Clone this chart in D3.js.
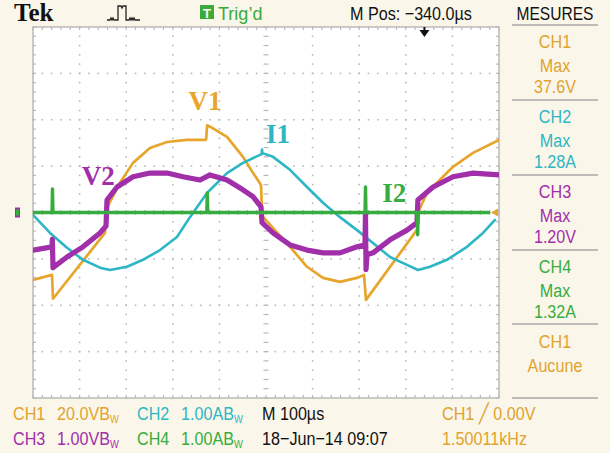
<!DOCTYPE html>
<html>
<head>
<meta charset="utf-8">
<script src="https://cdn.jsdelivr.net/npm/d3@7"></script>
<style>
  html, body { margin: 0; padding: 0; background: #fbf6ea; }
  svg { display: block; }
  .tek { font-family: "Liberation Sans", Arial, sans-serif; }
  .lbl { font-family: "Liberation Serif", "Times New Roman", serif; font-weight: bold; }
</style>
</head>
<body>
<svg id="scope" width="610" height="453"></svg>
<script>
// Screen time in microseconds, 0 = left edge of the graticule (100 us/div, 10 div)
// CH1 — V1, volts
const ch1Time = [0, 40.8, 42.9, 154.5, 156.0, 165.0, 186.7, 214.6, 251.0, 287.6, 330.5, 369.0, 371.5, 373.8, 380.0, 416.3, 450.6, 472.0, 489.3, 491.4, 493.6, 551.5, 588.0, 622.3, 658.8, 695.3, 710.3, 714.6, 824.0, 826.0, 845.5, 873.4, 901.3, 944.2, 1000];
const ch1Volts = [-29.1, -26.9, -37.2, -8.8, 0.5, 4.5, 12.8, 21.4, 27.8, 30.4, 31.3, 31.3, 31.5, 37.6, 37.0, 32.6, 24.0, 17.1, 11.9, 0.0, -1.9, -14.8, -23.4, -28.2, -29.9, -28.2, -26.9, -37.7, -7.5, 0.0, 8.4, 14.1, 19.7, 25.7, 31.3];

// CH2 — I1, amperes
const ch2Time = [0, 36.5, 73.0, 107.3, 143.8, 165.2, 201.7, 236.0, 272.5, 309.0, 336.9, 373.4, 416.3, 450.6, 490.5, 491.4, 492.3, 515.0, 551.5, 588.0, 622.3, 658.8, 695.3, 729.6, 766.1, 802.6, 826.2, 851.9, 888.4, 931.3, 965.7, 991.4];
const ch2Amps = [-0.05, -0.44, -0.76, -1.02, -1.19, -1.24, -1.17, -1.02, -0.81, -0.53, -0.10, 0.42, 0.85, 1.07, 1.26, 1.36, 1.28, 1.20, 0.92, 0.55, 0.21, -0.10, -0.38, -0.66, -0.96, -1.13, -1.24, -1.17, -1.02, -0.74, -0.44, -0.16];

// CH3 — V2, volts
const ch3Time = [0, 40.8, 41.5, 42.9, 73.0, 107.3, 143.8, 156.7, 158.8, 180.3, 214.6, 251.0, 287.6, 321.9, 358.4, 379.8, 416.3, 450.6, 472.0, 489.3, 491.4, 515.0, 551.5, 588.0, 622.3, 658.8, 695.3, 712.4, 713.5, 714.6, 716.7, 729.6, 766.1, 802.6, 824.0, 826.0, 858.4, 901.3, 944.2, 1000];
const ch3Volts = [-0.81, -0.74, -0.58, -1.19, -0.96, -0.74, -0.44, -0.29, 0.27, 0.55, 0.77, 0.85, 0.85, 0.77, 0.70, 0.81, 0.70, 0.49, 0.34, 0.12, -0.22, -0.44, -0.70, -0.81, -0.87, -0.87, -0.74, -0.70, 0.0, -1.23, -0.91, -0.87, -0.59, -0.38, -0.22, 0.27, 0.55, 0.77, 0.85, 0.81];

// CH4 — I2, amperes
const ch4Time = [0, 40.8, 41.8, 42.8, 373.0, 374.0, 375.0, 712.5, 713.5, 714.5, 824.5, 825.5, 826.5, 978];
const ch4Amps = [0, 0, 0.51, 0, 0, 0.42, 0, 0, 0.55, 0, 0, -0.48, 0, 0];

// Channel settings (units per division) and colours
const perDiv = [20, 1, 1, 1];
const traceColors = ["#e8a52c", "#2db6c4", "#a12fa9", "#37ad3f"];
const traceLabels = ["V1", "I1", "V2", "I2"];
// label anchor in screen time (us) and channel units
const labelT = [369, 526, 140, 775];
const labelV = [44, 1.5, 0.6, 0.23];

// Measurement panel
const measureTitle = "MESURES";
const measureRows = [
  ["CH1", "Max", "37.6V"],
  ["CH2", "Max", "1.28A"],
  ["CH3", "Max", "1.20V"],
  ["CH4", "Max", "1.32A"],
  ["CH1", "Aucune"]
];
const measureColors = ["#e0a32e", "#2db6c4", "#a12fa9", "#37ad3f", "#e0a32e"];

// Footer readouts
const footNames = ["CH1", "CH2", "CH3", "CH4"];
const footScales = ["20.0V", "1.00A", "1.00V", "1.00A"];
const timebase = "M 100µs";
const dateText = "18−Jun−14 09:07";
const trigText = "CH1 ╱ 0.00V";
const freqText = "1.50011kHz";

const svg = d3.select("#scope");
const W = 610, H = 453;
const gx0 = 33, gx1 = 499, gy0 = 27, gy1 = 398;

const x = d3.scaleLinear().domain([0, 1000]).range([gx0, gx1]);
const yDiv = d3.scaleLinear().domain([-4, 4]).range([gy1, gy0]);
const xDiv = d3.scaleLinear().domain([-5, 5]).range([gx0, gx1]);

// Condensed readout text, as on the instrument display
function tek(px, py, str, color, anchor, size, sx) {
  return svg.append("text").attr("class", "tek")
    .attr("transform", `translate(${px},${py}) scale(${sx || 0.85},1)`)
    .attr("text-anchor", anchor || "start").attr("font-size", size || 19)
    .attr("fill", color).text(str);
}

svg.append("rect").attr("width", W).attr("height", H).attr("fill", "#fbf6ea");

// Graticule
const grat = svg.append("g");
grat.append("rect").attr("x", gx0).attr("y", gy0).attr("width", gx1 - gx0).attr("height", gy1 - gy0)
  .attr("fill", "#ffffff").attr("stroke", "#a9a9a9").attr("stroke-width", 1.2);

const gridCol = "#b9b9b9";
const minorX = d3.range(-5, 5.001, 0.2);
const minorY = d3.range(-4, 4.001, 0.2);
d3.range(-4, 5).forEach(k => {
  if (k === 0) return;
  grat.selectAll(null).data(minorY).enter().append("rect")
    .attr("x", xDiv(k) - 0.8).attr("y", d => yDiv(d) - 0.8).attr("width", 1.6).attr("height", 1.6).attr("fill", gridCol);
});
d3.range(-3, 4).forEach(k => {
  if (k === 0) return;
  grat.selectAll(null).data(minorX).enter().append("rect")
    .attr("x", d => xDiv(d) - 0.8).attr("y", yDiv(k) - 0.8).attr("width", 1.6).attr("height", 1.6).attr("fill", gridCol);
});
grat.selectAll(null).data(minorY).enter().append("line")
  .attr("x1", xDiv(0) - 2.5).attr("x2", xDiv(0) + 2.5).attr("y1", d => yDiv(d)).attr("y2", d => yDiv(d))
  .attr("stroke", gridCol).attr("stroke-width", 1.2);
grat.selectAll(null).data(minorX).enter().append("line")
  .attr("y1", yDiv(0) - 2.5).attr("y2", yDiv(0) + 2.5).attr("x1", d => xDiv(d)).attr("x2", d => xDiv(d))
  .attr("stroke", gridCol).attr("stroke-width", 1.2);
[[gy0, 1], [gy1, -1]].forEach(([yy, s]) => {
  grat.selectAll(null).data(minorX).enter().append("line")
    .attr("x1", d => xDiv(d)).attr("x2", d => xDiv(d)).attr("y1", yy).attr("y2", yy + s * 3)
    .attr("stroke", gridCol).attr("stroke-width", 1.2);
});
[[gx0, 1], [gx1, -1]].forEach(([xx, s]) => {
  grat.selectAll(null).data(minorY).enter().append("line")
    .attr("y1", d => yDiv(d)).attr("y2", d => yDiv(d)).attr("x1", xx).attr("x2", xx + s * 3)
    .attr("stroke", gridCol).attr("stroke-width", 1.2);
});

// Traces
svg.append("clipPath").attr("id", "screen").append("rect")
  .attr("x", gx0).attr("y", gy0).attr("width", gx1 - gx0).attr("height", gy1 - gy0);
const traces = svg.append("g").attr("clip-path", "url(#screen)");

const series = [
  { t: ch1Time, v: ch1Volts, ch: 0, w: 2.7 },
  { t: ch2Time, v: ch2Amps, ch: 1, w: 2.6 },
  { t: ch3Time, v: ch3Volts, ch: 2, w: 5.2 },
  { t: ch4Time, v: ch4Amps, ch: 3, w: 3.4 }
];
series.forEach(s => {
  const pts = s.t.map((t, i) => [t, s.v[i]]);
  const line = d3.line().x(d => x(d[0])).y(d => yDiv(d[1] / perDiv[s.ch]));
  traces.append("path").attr("d", line(pts)).attr("fill", "none")
    .attr("stroke", traceColors[s.ch]).attr("stroke-width", s.w)
    .attr("stroke-linejoin", "round").attr("stroke-linecap", "round");
});

traceLabels.forEach((name, i) => {
  svg.append("text").attr("class", "lbl")
    .attr("x", x(labelT[i])).attr("y", yDiv(labelV[i] / perDiv[i]))
    .attr("text-anchor", "middle").attr("font-size", 27).attr("fill", traceColors[i]).text(name);
});

// Ground reference marker and trigger level marker
svg.append("rect").attr("x", 15).attr("y", yDiv(0) - 5).attr("width", 5).attr("height", 10).attr("fill", traceColors[2]);
svg.append("rect").attr("x", 16).attr("y", yDiv(0) - 3).attr("width", 3).attr("height", 6).attr("fill", traceColors[3]);
svg.append("path")
  .attr("d", `M${gx1 - 8},${yDiv(0)} L${gx1 - 1},${yDiv(0) - 4} L${gx1 - 1},${yDiv(0) + 4} Z`)
  .attr("fill", traceColors[0]);

// Trigger position arrow (+3.4 div from centre)
const trigX = xDiv(3.4);
svg.append("path").attr("d", `M${trigX - 5},${gy0 + 3} L${trigX + 5},${gy0 + 3} L${trigX},${gy0 + 10} Z`).attr("fill", "#111");
svg.append("line").attr("x1", trigX).attr("x2", trigX).attr("y1", gy0).attr("y2", gy0 + 5).attr("stroke", "#111").attr("stroke-width", 2);

// Header
svg.append("text").attr("x", 14).attr("y", 21).attr("font-family", "Liberation Serif, serif").attr("font-weight", "bold")
  .attr("font-size", 25).attr("fill", "#111").text("Tek");
svg.append("path")
  .attr("d", "M107,20 L110,20 L111,18 L112,20 L113,18 L114,20 L118,20 L118,6 L121,6 L122,8 L123,6 L126,6 L126,20 L129,20 L130,18 L131,20 L132,18 L133,20 L134,18 L135,20 L140,20")
  .attr("fill", "none").attr("stroke", "#222").attr("stroke-width", 1.3);
svg.append("rect").attr("x", 200).attr("y", 5).attr("width", 14).attr("height", 14).attr("fill", "#3aab3a");
svg.append("text").attr("class", "tek").attr("x", 207).attr("y", 17.5).attr("text-anchor", "middle")
  .attr("font-size", 13).attr("font-weight", "bold").attr("fill", "#fff").text("T");
tek(218, 20, "Trig’d", "#3aab3a", "start", 19, 0.95);
tek(350, 20, "M Pos: −340.0µs", "#111");
tek(555, 20, measureTitle, "#111", "middle", 19, 0.82);

// Measurement panel
const sepY = [25, 100, 175, 250, 324, 398];
svg.selectAll(null).data(sepY).enter().append("line")
  .attr("x1", 512).attr("x2", 598).attr("y1", d => d).attr("y2", d => d)
  .attr("stroke", "#a8a8a8").attr("stroke-width", 1.5);
const rowOff = [0, 24, 45];
measureRows.forEach((row, i) => {
  row.forEach((txt, j) => {
    tek(555, 48 + i * 75 + rowOff[j], txt, measureColors[i], "middle");
  });
});

// Footer: channel scales, timebase, date, trigger
const footX = [13, 137, 13, 137];
const footY = [420, 420, 445, 445];
footNames.forEach((nm, i) => {
  tek(footX[i], footY[i], nm, measureColors[i]);
  const t = tek(footX[i] + 44, footY[i], "", measureColors[i]);
  t.append("tspan").text(footScales[i] + "B");
  t.append("tspan").attr("font-size", 11).attr("dy", 3).text("W");
});
tek(262, 420, timebase, "#111");
tek(262, 445, dateText, "#111");
tek(442, 420, trigText, measureColors[0]);
tek(442, 445, freqText, measureColors[0]);
</script>
</body>
</html>
